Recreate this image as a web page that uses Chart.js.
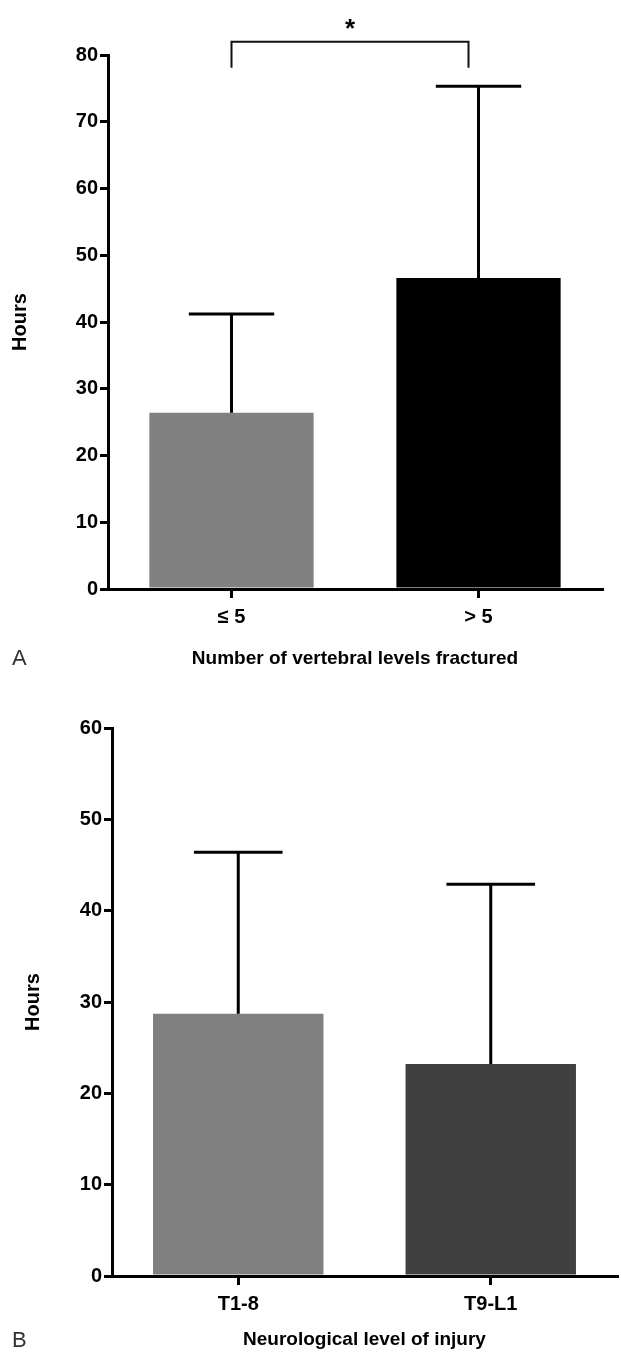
<!DOCTYPE html>
<html>
<head>
<meta charset="utf-8">
<script src="https://cdn.jsdelivr.net/npm/chart.js@4.4.1/dist/chart.umd.min.js"></script>
<style>
  body { margin: 0; background: #fff; }
  #page { position: relative; width: 621px; height: 1352px; overflow: hidden; background: #fff; }
  .box { position: absolute; left: 0; width: 621px; }
  #boxA { top: 0; height: 680px; }
  #boxB { top: 680px; height: 672px; }
  .panel { position: absolute; left: 12px; font: 22px 'Liberation Sans', Arial, sans-serif; color: #333; }
</style>
</head>
<body>
<div id="page">
  <div class="box" id="boxA"><canvas id="chartLevels" width="621" height="680"></canvas></div>
  <div class="box" id="boxB"><canvas id="chartInjury" width="621" height="672"></canvas></div>
  <div class="panel" style="top:645px">A</div>
  <div class="panel" style="top:1327px">B</div>
</div>
<script>
const _ = (id) => document.getElementById(id)

// panel A: number of vertebral levels fractured
const levelLabels = ['≤ 5', '> 5']
const levelHours = [26.4, 46.6]
const levelSD = [14.8, 28.7]
const levelColors = ['#808080', '#000000']
const levelMax = 80

// panel B: neurological level of injury
const injuryLabels = ['T1-8', 'T9-L1']
const injuryHours = [28.7, 23.2]
const injurySD = [17.7, 19.7]
const injuryColors = ['#808080', '#404040']
const injuryMax = 60

const fontFamily = "'Liberation Sans', Arial, Helvetica, sans-serif"
const tickFont = { family: fontFamily, size: 20, weight: 'bold' }
const titleFont = { family: fontFamily, size: 19, weight: 'bold' }

const errorBars = {
  id: 'errorBars',
  afterDatasetsDraw(chart, args, opts) {
    const { ctx } = chart
    const y = chart.scales.y
    const meta = chart.getDatasetMeta(0)
    const values = chart.data.datasets[0].data
    ctx.save()
    ctx.strokeStyle = '#000'
    ctx.lineWidth = 3
    meta.data.forEach((bar, i) => {
      const top = y.getPixelForValue(values[i] + opts.sd[i])
      const half = bar.width * 0.26
      ctx.beginPath()
      ctx.moveTo(bar.x, bar.y)
      ctx.lineTo(bar.x, top)
      ctx.moveTo(bar.x - half, top)
      ctx.lineTo(bar.x + half, top)
      ctx.stroke()
    })
    ctx.restore()
  },
}

// significance bracket between the two groups in panel A
const sigBracket = {
  id: 'sigBracket',
  afterDraw(chart, args, opts) {
    if (!opts.show) return
    const { ctx } = chart
    const { x, y } = chart.scales
    const x0 = x.getPixelForValue(0)
    const x1 = x.getPixelForValue(1) - 10
    const yTop = y.getPixelForValue(levelMax + 2)
    const yEnd = y.getPixelForValue(levelMax - 1.9)
    ctx.save()
    ctx.strokeStyle = '#111'
    ctx.lineWidth = 2
    ctx.beginPath()
    ctx.moveTo(x0, yEnd)
    ctx.lineTo(x0, yTop)
    ctx.lineTo(x1, yTop)
    ctx.lineTo(x1, yEnd)
    ctx.stroke()
    ctx.fillStyle = '#000'
    ctx.font = `bold 26px ${fontFamily}`
    ctx.textAlign = 'center'
    ctx.textBaseline = 'alphabetic'
    ctx.fillText('*', (x0 + x1) / 2, yTop - 5)
    ctx.restore()
  },
}

function makeChart(canvas, cfg) {
  return new Chart(canvas, {
    type: 'bar',
    data: {
      labels: cfg.labels,
      datasets: [
        {
          data: cfg.values,
          backgroundColor: cfg.colors,
          borderWidth: 0,
          barPercentage: cfg.barPct,
          categoryPercentage: 1,
        },
      ],
    },
    options: {
      responsive: false,
      animation: false,
      devicePixelRatio: 1,
      layout: { padding: { top: cfg.top, right: cfg.right, left: 0, bottom: 0 } },
      plugins: {
        legend: { display: false },
        tooltip: { enabled: false },
        errorBars: { sd: cfg.sd },
        sigBracket: { show: cfg.bracket },
      },
      scales: {
        x: {
          afterFit: (s) => { s.height = cfg.xHeight },
          grid: {
            display: true,
            offset: false,
            drawOnChartArea: false,
            tickLength: 9,
            lineWidth: 3,
            color: '#000',
          },
          border: { display: true, width: 3, color: '#000' },
          ticks: { color: '#000', font: tickFont, padding: 7 },
          title: {
            display: true,
            text: cfg.xTitle,
            color: '#000',
            font: titleFont,
            padding: { top: 0, bottom: cfg.xTitlePad },
          },
        },
        y: {
          min: 0,
          max: cfg.max,
          afterFit: (s) => { s.width = cfg.yWidth },
          grid: {
            display: true,
            drawOnChartArea: false,
            tickLength: 8,
            lineWidth: 3,
            color: '#000',
          },
          border: { display: true, width: 3, color: '#000' },
          ticks: { stepSize: 10, color: '#000', font: tickFont, padding: 2 },
          title: {
            display: true,
            text: 'Hours',
            color: '#000',
            font: { family: fontFamily, size: 20, weight: 'bold' },
            padding: { top: cfg.yTitlePad, bottom: 0 },
          },
        },
      },
    },
    plugins: [errorBars, sigBracket],
  })
}

makeChart(_('chartLevels'), {
  labels: levelLabels,
  values: levelHours,
  sd: levelSD,
  colors: levelColors,
  max: levelMax,
  xTitle: 'Number of vertebral levels fractured',
  barPct: 0.665,
  top: 55,
  right: 19,
  xHeight: 91,
  xTitlePad: 10,
  yWidth: 108,
  yTitlePad: 8,
  bracket: true,
})

makeChart(_('chartInjury'), {
  labels: injuryLabels,
  values: injuryHours,
  sd: injurySD,
  colors: injuryColors,
  max: injuryMax,
  xTitle: 'Neurological level of injury',
  barPct: 0.675,
  top: 48,
  right: 4,
  xHeight: 76,
  xTitlePad: 1,
  yWidth: 112,
  yTitlePad: 21,
  bracket: false,
})
</script>
</body>
</html>
